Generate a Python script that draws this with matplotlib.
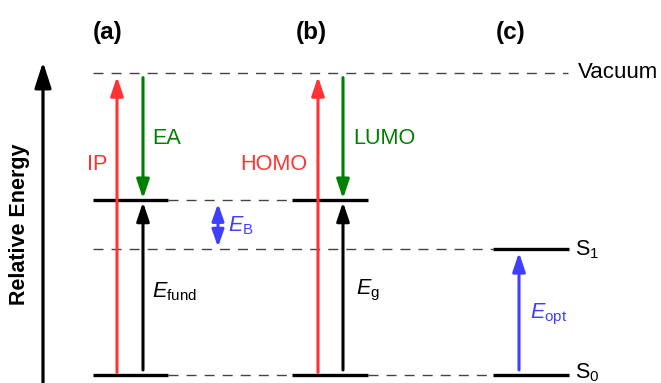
import matplotlib
matplotlib.use("Agg")
import matplotlib.pyplot as plt

plt.rcParams["font.family"] = ["Liberation Sans", "DejaVu Sans"]
plt.rcParams["mathtext.fontset"] = "custom"
plt.rcParams["mathtext.rm"] = "Liberation Sans"
plt.rcParams["mathtext.it"] = "Liberation Sans:italic"
plt.rcParams["mathtext.bf"] = "Liberation Sans:bold"

# Energy levels (relative units)
E_vacuum = 6.0
E_lumo = 3.47
E_s1 = 2.5
E_ground = 0.0

panel_labels = ["(a)", "(b)", "(c)"]
state_labels = ["Vacuum", r"S$_1$", r"S$_0$"]

RED = "#ff3333"
GREEN = "#008000"
BLUE = "#3f3fff"
DASH = "#444444"

W, H = 661, 383
fig = plt.figure(figsize=(W / 100, H / 100), dpi=100)
ax = fig.add_axes([0, 0, 1, 1])
ax.set_xlim(0, W)
scale = 50.4  # pixels per energy unit
ax.set_ylim(-(H - 375) / scale, 375 / scale)
ax.axis("off")


def ypx(p):
    """Vertical layout position given as a pixel row."""
    return (375 - p) / scale


# column spans of the level bars
col_a = (93, 168)
col_b = (292, 368)
col_c = (493, 569)

level_kw = dict(color="black", lw=2.4, solid_capstyle="butt")
for (x0, x1) in (col_a, col_b):
    ax.plot([x0, x1], [E_lumo, E_lumo], **level_kw)
    ax.plot([x0, x1], [E_ground, E_ground], **level_kw)
ax.plot(col_c, [E_s1, E_s1], **level_kw)
ax.plot(col_c, [E_ground, E_ground], **level_kw)

dash_kw = dict(color=DASH, lw=1.0, linestyle=(0, (7.2, 5.8)))
ax.plot([93, 568], [E_vacuum, E_vacuum], **dash_kw)
ax.plot([col_a[1], col_b[0]], [E_lumo, E_lumo], **dash_kw)
ax.plot([93, col_c[0]], [E_s1, E_s1], **dash_kw)
ax.plot([col_a[1], col_b[0]], [E_ground, E_ground], **dash_kw)
ax.plot([col_b[1], col_c[0]], [E_ground, E_ground], **dash_kw)


def arrow(x, y0, y1, color, style="-|>", hl=0.95, hw=0.32, lw=2.2, ms=12):
    ax.annotate(
        "", xy=(x, y1), xytext=(x, y0),
        arrowprops=dict(arrowstyle=f"{style},head_length={hl},head_width={hw}",
                        color=color, lw=lw, shrinkA=0, shrinkB=0,
                        mutation_scale=ms),
    )


gap = 0.05
# (a) ionisation potential / electron affinity / fundamental gap
arrow(117, E_ground + gap, E_vacuum - 0.08, RED)
arrow(143, E_vacuum - 0.1, E_lumo + 0.03, GREEN)
arrow(143, E_ground + 0.1, E_lumo - 0.04, "black")
# exciton binding energy
arrow(218, E_lumo - 0.07, E_s1 + 0.04, BLUE, style="<|-|>", hl=0.85, hw=0.3)
# (b) HOMO / LUMO / gap
arrow(318, E_ground + gap, E_vacuum - 0.08, RED)
arrow(343, E_vacuum - 0.1, E_lumo + 0.03, GREEN)
arrow(343, E_ground + 0.1, E_lumo - 0.04, "black")
# (c) optical gap
arrow(519, E_ground + 0.1, E_s1 - 0.07, BLUE)

# energy axis
arrow(43, ypx(H + 2), ypx(62), "black", hl=1.3, hw=0.42, lw=2.3)
ax.text(20, ypx(224), "Relative Energy", rotation=90, fontsize=15.5,
        fontweight="bold", ha="center", va="center")

# panel labels
for lbl, xc in zip(panel_labels, (108, 311, 511)):
    ax.text(xc, ypx(32), lbl, fontsize=17.5, fontweight="bold",
            ha="center", va="center")

fs = 15.6
ax.text(578, E_vacuum, state_labels[0], fontsize=16, ha="left", va="center")
ax.text(575, ypx(255), state_labels[1], fontsize=fs, ha="left", va="baseline")
ax.text(575, ypx(378), state_labels[2], fontsize=fs, ha="left", va="baseline")

ax.text(97, ypx(170), "IP", color=RED, fontsize=fs, ha="center", va="baseline")
ax.text(274, ypx(170), "HOMO", color=RED, fontsize=fs, ha="center", va="baseline")
ax.text(167, ypx(144), "EA", color=GREEN, fontsize=fs, ha="center", va="baseline")
ax.text(384, ypx(144), "LUMO", color=GREEN, fontsize=fs, ha="center", va="baseline")

ax.text(228, ypx(231), r"$\mathit{E}_\mathrm{B}$", color=BLUE, fontsize=fs,
        ha="left", va="baseline")
ax.text(152, ypx(297), r"$\mathit{E}_\mathrm{fund}$", color="black", fontsize=fs,
        ha="left", va="baseline")
ax.text(356, ypx(294), r"$\mathit{E}_\mathrm{g}$", color="black", fontsize=fs,
        ha="left", va="baseline")
ax.text(530, ypx(318), r"$\mathit{E}_\mathrm{opt}$", color=BLUE, fontsize=fs,
        ha="left", va="baseline")

fig.savefig("out.png", dpi=100)
